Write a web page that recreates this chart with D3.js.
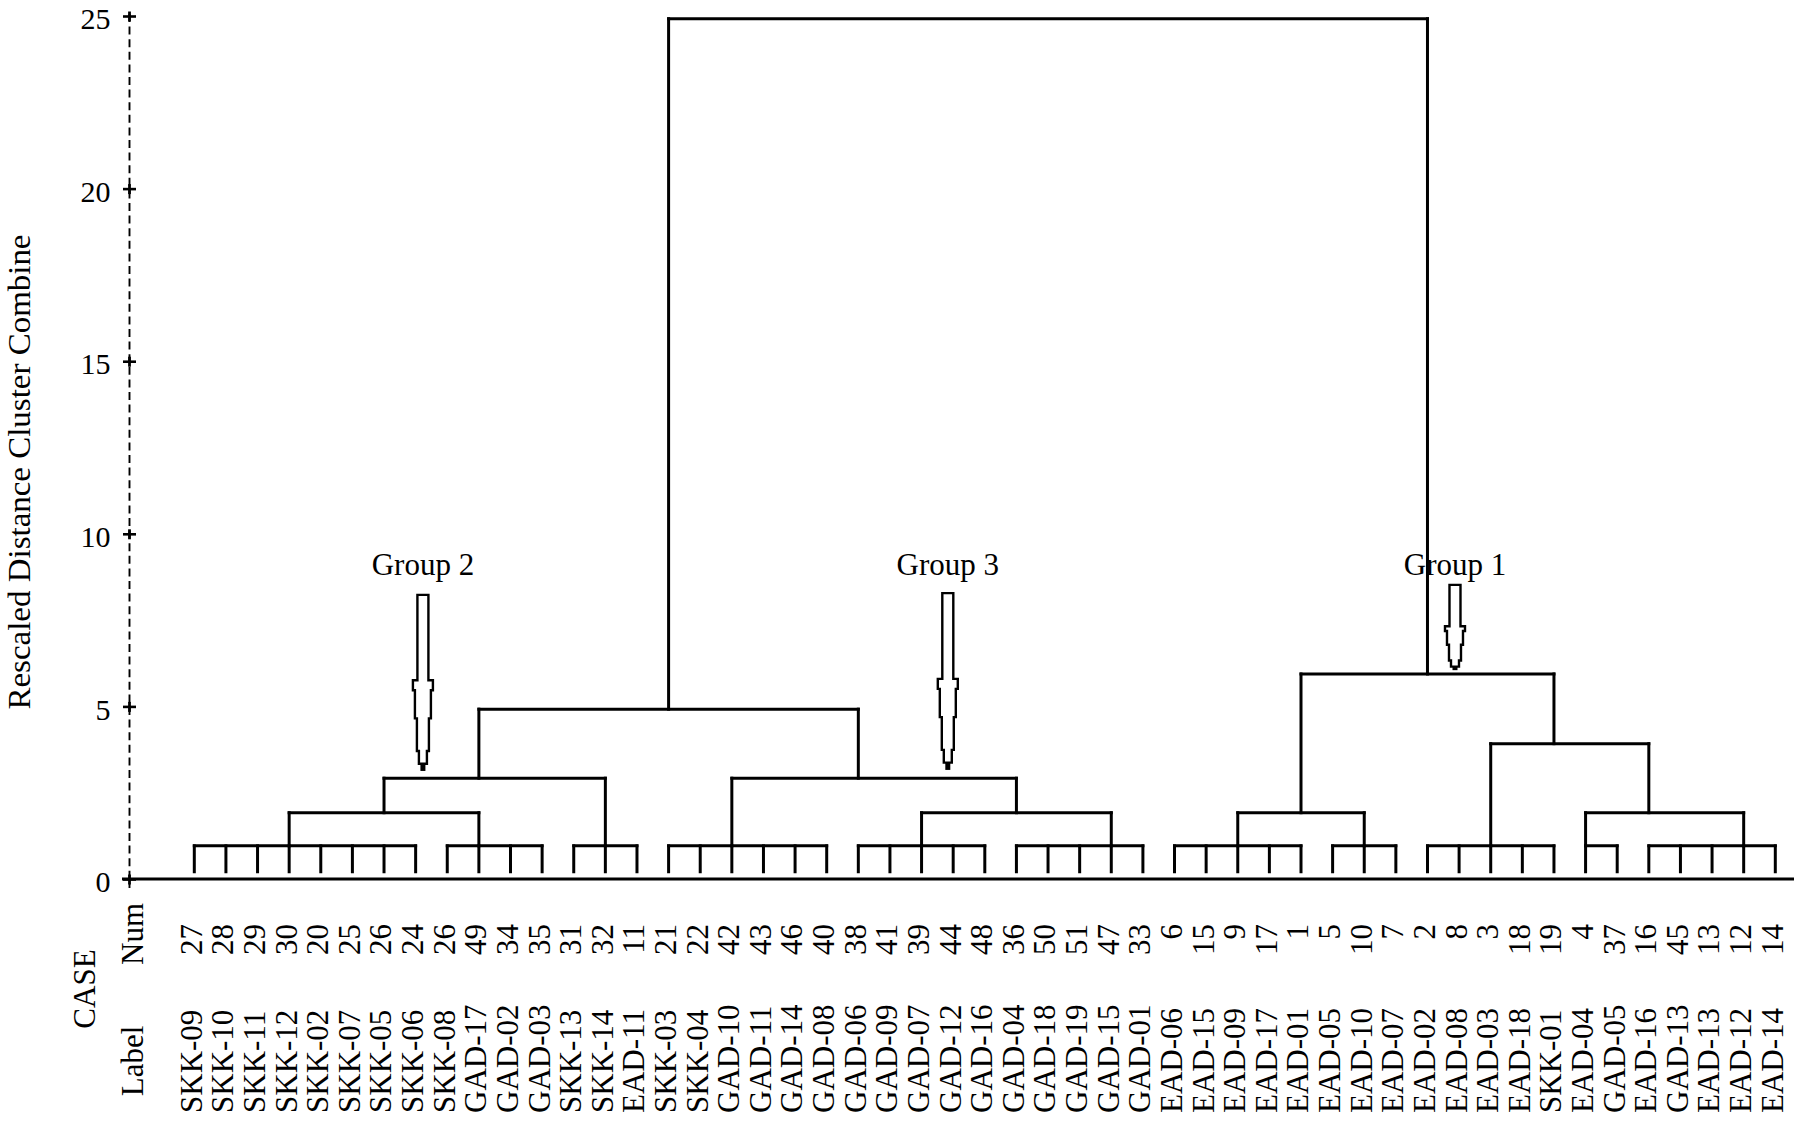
<!DOCTYPE html>
<html><head><meta charset="utf-8">
<script src="https://cdn.jsdelivr.net/npm/d3@7"></script>
<style>
html,body{margin:0;padding:0;background:#fff;}
svg{display:block;background:#fff;}
</style></head><body>
<svg id="chart" width="1794" height="1124"></svg>
<script>
// ---------- data ----------
const leafNums = [27,28,29,30,20,25,26,24,26,49,34,35,31,32,11,
  21,22,42,43,46,40,38,41,39,44,48,36,50,51,47,33,
  6,15,9,17,1,5,10,7,2,8,3,18,19,4,37,16,45,13,12,14];
const leafLabels = ["SKK-09","SKK-10","SKK-11","SKK-12","SKK-02","SKK-07","SKK-05","SKK-06","SKK-08","GAD-17","GAD-02","GAD-03","SKK-13","SKK-14","EAD-11",
  "SKK-03","SKK-04","GAD-10","GAD-11","GAD-14","GAD-08","GAD-06","GAD-09","GAD-07","GAD-12","GAD-16","GAD-04","GAD-18","GAD-19","GAD-15","GAD-01",
  "EAD-06","EAD-15","EAD-09","EAD-17","EAD-01","EAD-05","EAD-10","EAD-07","EAD-02","EAD-08","EAD-03","EAD-18","SKK-01","EAD-04","GAD-05","EAD-16","GAD-13","EAD-13","EAD-12","EAD-14"];
const yTicks = [0,5,10,15,20,25];
const leafBase = 0.21;
// [id, children (leaf index or cluster id), combine distance, leaf index where the link rises]
const merges = [
  ["c1", [0,1,2,3,4,5,6,7], 0.96, 3],
  ["c2", [8,9,10,11], 0.96, 9],
  ["c3", [12,13,14], 0.96, 13],
  ["c4", [15,16,17,18,19,20], 0.96, 17],
  ["c5", [21,22,23,24,25], 0.96, 23],
  ["c6", [26,27,28,29,30], 0.96, 29],
  ["c7", [31,32,33,34,35], 0.96, 33],
  ["c8", [36,37,38], 0.96, 37],
  ["c9", [39,40,41,42,43], 0.96, 41],
  ["c10", [44,45], 0.96, 44],
  ["c11", [46,47,48,49,50], 0.96, 49],
  ["c12", ["c1","c2"], 1.92, 6],
  ["c13", ["c12","c3"], 2.92, 9],
  ["c14", ["c5","c6"], 1.92, 26],
  ["c15", ["c4","c14"], 2.92, 21],
  ["c16", ["c13","c15"], 4.92, 15],
  ["c17", ["c7","c8"], 1.92, 35],
  ["c18", ["c10","c11"], 1.92, 46],
  ["c19", ["c9","c18"], 3.92, 43],
  ["c20", ["c17","c19"], 5.94, 39],
  ["c21", ["c16","c20"], 24.92, null]
];
// [label, leaf position, arrow top, arrow tip]
const groups = [
  ["Group 2", 7.23, 8.23, 3.13],
  ["Group 3", 23.83, 8.28, 3.16],
  ["Group 1", 39.87, 8.52, 6.05]
];
const groupLabelY = 8.8;

// ---------- drawing ----------
const FONT = "'Liberation Serif','Times New Roman',serif";
const svg = d3.select("#chart");
const x = d3.scaleLinear().domain([0, leafNums.length - 1]).range([194.3, 1775.3]);
const y = d3.scaleLinear().domain([0, 25]).range([879, 16]);

// dashed vertical axis
svg.append("line").attr("x1", 129.5).attr("x2", 129.5)
  .attr("y1", y(25) - 2).attr("y2", y(0) + 9)
  .attr("stroke", "#000").attr("stroke-width", 1.9).attr("stroke-dasharray", "8,4.6");

// axis ticks and labels
const axis = d3.axisLeft(y).tickValues(yTicks).tickSize(6.5).tickPadding(12.5).tickFormat(d3.format("d"));
const gAx = svg.append("g").attr("transform", "translate(129.5,0)").call(axis)
  .attr("font-family", FONT).attr("font-size", 30);
gAx.select(".domain").remove();
gAx.selectAll(".tick line").attr("x1", -6.5).attr("x2", 6.5).attr("stroke", "#000").attr("stroke-width", 2.6);
gAx.selectAll(".tick").append("line").attr("y1", -5).attr("y2", 5).attr("stroke", "#000").attr("stroke-width", 2.8);
gAx.selectAll(".tick text").attr("dy", "0.42em").attr("fill", "#000");

// baseline
svg.append("line").attr("x1", 122).attr("x2", 1794).attr("y1", y(0)).attr("y2", y(0))
  .attr("stroke", "#000").attr("stroke-width", 3.2);

// dendrogram links
const byId = new Map(merges.map(m => [m[0], {id: m[0], children: m[1], h: m[2], anchor: m[3]}]));
const anchorOf = c => typeof c === "number" ? c : byId.get(c).anchor;
const heightOf = c => typeof c === "number" ? leafBase : byId.get(c).h;
const segs = [];
byId.forEach(n => {
  const xs = n.children.map(anchorOf);
  segs.push({x1: d3.min(xs), x2: d3.max(xs), y1: n.h, y2: n.h});
  n.children.forEach(c => segs.push({x1: anchorOf(c), x2: anchorOf(c), y1: heightOf(c), y2: n.h}));
});
svg.append("g").selectAll("line").data(segs).join("line")
  .attr("x1", d => x(d.x1)).attr("x2", d => x(d.x2))
  .attr("y1", d => y(d.y1)).attr("y2", d => y(d.y2))
  .attr("stroke", "#000").attr("stroke-width", 3).attr("stroke-linecap", "square");

// group arrows
function arrowPts(cx, yTop, yTip) {
  const L = yTip - yTop, yS = yTop + 0.485 * L, H = yTip - yS;
  const steps = [[0, 10], [0.11, 8], [0.42, 6], [0.78, 4]];
  const left = [[cx - 5.5, yTop], [cx - 5.5, yS]];
  steps.forEach((s, i) => {
    const yA = yS + s[0] * H, yB = yS + (i < steps.length - 1 ? steps[i + 1][0] : 0.92) * H;
    left.push([cx - s[1], yA], [cx - s[1], yB]);
  });
  const right = left.slice().reverse().map(p => [2 * cx - p[0], p[1]]);
  return {poly: left.concat(right), tipTop: yS + 0.92 * H};
}
const gArr = svg.append("g");
groups.forEach(g => {
  const cx = x(g[1]), yTop = y(g[2]), yTip = y(g[3]);
  const a = arrowPts(cx, yTop, yTip);
  gArr.append("path").attr("d", d3.line()(a.poly) + "Z")
    .attr("fill", "#fff").attr("stroke", "#000").attr("stroke-width", 2.4).attr("stroke-linejoin", "miter");
  gArr.append("rect").attr("x", cx - 2.5).attr("width", 5)
    .attr("y", a.tipTop).attr("height", yTip - a.tipTop).attr("fill", "#000");
  gArr.append("text").attr("x", cx).attr("y", y(groupLabelY))
    .attr("text-anchor", "middle").attr("font-family", FONT).attr("font-size", 31).text(g[0]);
});

// axis title
svg.append("text").attr("transform", "translate(30,472) rotate(-90)")
  .attr("text-anchor", "middle").attr("font-family", FONT).attr("font-size", 32)
  .attr("textLength", 475).attr("lengthAdjust", "spacingAndGlyphs")
  .text("Rescaled Distance Cluster Combine");

// CASE headers
const hdr = [["CASE", 95, 989], ["Num", 143, 934], ["Label", 143, 1061]];
svg.append("g").selectAll("text").data(hdr).join("text")
  .attr("transform", d => `translate(${d[1]},${d[2]}) rotate(-90)`)
  .attr("text-anchor", "middle").attr("font-family", FONT).attr("font-size", 31).text(d => d[0]);

// leaf numbers and labels
svg.append("g").selectAll("text").data(leafNums).join("text")
  .attr("transform", (d, i) => `translate(${x(i) + 7.4},924) rotate(-90)`)
  .attr("text-anchor", "end").attr("font-family", FONT).attr("font-size", 31).text(d => d);
svg.append("g").selectAll("text").data(leafLabels).join("text")
  .attr("transform", (d, i) => `translate(${x(i) + 7.4},1113) rotate(-90)`)
  .attr("text-anchor", "start").attr("font-family", FONT).attr("font-size", 31).text(d => d);
</script>
</body></html>
